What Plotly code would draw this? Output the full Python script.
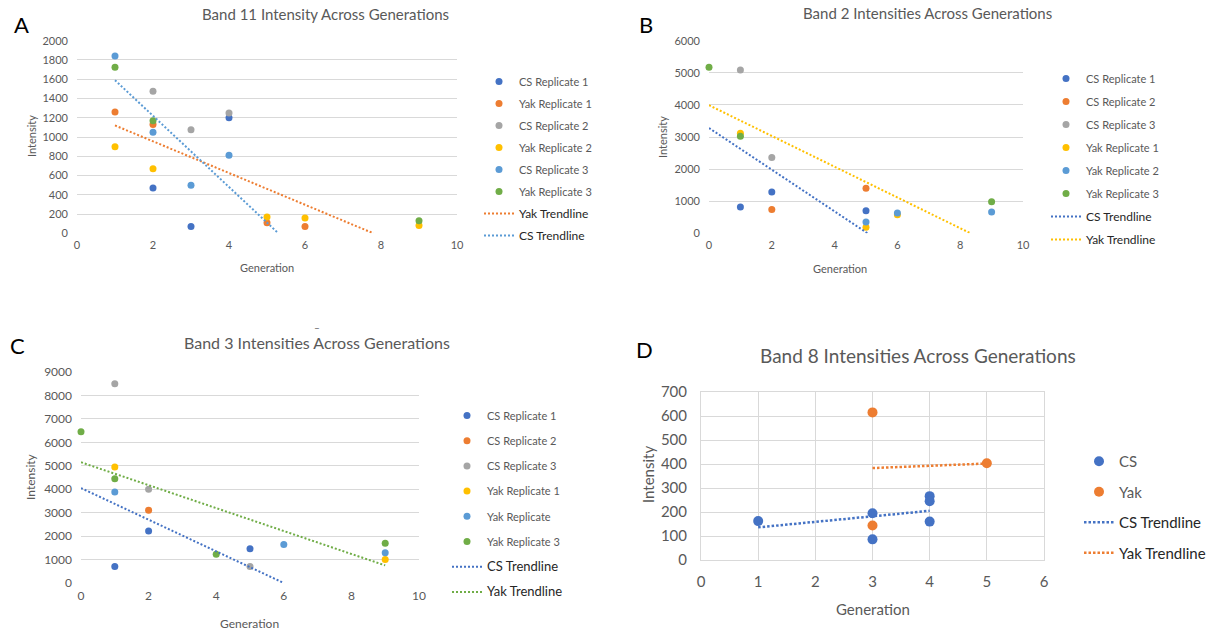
import plotly.graph_objects as go

W, H = 1216, 630
FONT = "Lato, 'Open Sans', sans-serif"
GRAY = "#595959"
GRID = "#D9D9D9"
C_BLUE, C_ORANGE, C_GRAY = "#4472C4", "#ED7D31", "#A5A5A5"
C_YELLOW, C_LBLUE, C_GREEN = "#FFC000", "#5B9BD5", "#70AD47"

# ---------------- Panel A: Band 11 ----------------
a_cs1_x, a_cs1_y = [2, 3, 4], [470, 70, 1200]
a_yak1_x, a_yak1_y = [1, 2, 5, 6], [1260, 1130, 110, 70]
a_cs2_x, a_cs2_y = [2, 3, 4], [1475, 1075, 1250]
a_yak2_x, a_yak2_y = [1, 2, 5, 6, 9], [900, 670, 170, 160, 80]
a_cs3_x, a_cs3_y = [1, 2, 3, 4], [1840, 1050, 500, 810]
a_yak3_x, a_yak3_y = [1, 2, 9], [1725, 1170, 130]
a_yak_trend_x, a_yak_trend_y = [1, 7.8], [1120, 0]
a_cs_trend_x, a_cs_trend_y = [1, 5.3], [1590, 0]

# ---------------- Panel B: Band 2 ----------------
b_cs1_x, b_cs1_y = [1, 2, 5], [820, 1290, 700]
b_cs2_x, b_cs2_y = [2, 5], [740, 1400]
b_cs3_x, b_cs3_y = [1, 2], [5090, 2360]
b_yak1_x, b_yak1_y = [1, 5, 6], [3120, 190, 580]
b_yak2_x, b_yak2_y = [5, 6, 9], [350, 630, 660]
b_yak3_x, b_yak3_y = [0, 1, 9], [5170, 3020, 980]
b_cs_trend_x, b_cs_trend_y = [0, 5.05], [3280, 0]
b_yak_trend_x, b_yak_trend_y = [0, 8.33], [3990, 0]

# ---------------- Panel C: Band 3 ----------------
c_cs1_x, c_cs1_y = [1, 2, 5], [700, 2220, 1460]
c_cs2_x, c_cs2_y = [2], [3100]
c_cs3_x, c_cs3_y = [1, 2, 5], [8500, 4000, 700]
c_yak1_x, c_yak1_y = [1, 9], [4950, 1000]
c_yak2_x, c_yak2_y = [1, 6, 9], [3880, 1640, 1290]
c_yak3_x, c_yak3_y = [0, 1, 4, 9], [6450, 4450, 1230, 1700]
c_cs_trend_x, c_cs_trend_y = [0, 6], [4050, 0]
c_yak_trend_x, c_yak_trend_y = [0, 9], [5150, 750]

# ---------------- Panel D: Band 8 ----------------
d_cs_x, d_cs_y = [1, 3, 3, 4, 4, 4], [162, 195, 86, 266, 245, 160]
d_yak_x, d_yak_y = [3, 3, 5], [615, 144, 403]
d_cs_trend_x, d_cs_trend_y = [1, 4], [136, 205]
d_yak_trend_x, d_yak_trend_y = [3, 5], [383, 402]

fig = go.Figure()


def pts(x, y, name, color, ax, legend, size=7, rank=None):
    fig.add_trace(go.Scatter(
        x=x, y=y, mode="markers", name=name, xaxis="x" + ax, yaxis="y" + ax,
        marker=dict(color=color, size=size, line=dict(width=0)),
        cliponaxis=False, legend=legend, legendgroup=legend + name,
        legendrank=rank if rank else 1000, hoverinfo="x+y"))


def trend(x, y, name, color, ax, legend, fsize, rank, width=2, dash="2px,2px"):
    label = "<span style='color:#262626;font-size:%dpx'>%s</span>" % (fsize, name)
    fig.add_trace(go.Scatter(
        x=x, y=y, mode="lines", name=label, xaxis="x" + ax, yaxis="y" + ax,
        line=dict(color=color, width=width, dash=dash),
        legend=legend, legendgroup=legend + name, legendrank=rank, hoverinfo="skip"))


# A
pts(a_cs1_x, a_cs1_y, "CS Replicate 1", C_BLUE, "", "legend", rank=1)
pts(a_yak1_x, a_yak1_y, "Yak Replicate 1", C_ORANGE, "", "legend", rank=2)
pts(a_cs2_x, a_cs2_y, "CS Replicate 2", C_GRAY, "", "legend", rank=3)
pts(a_yak2_x, a_yak2_y, "Yak Replicate 2", C_YELLOW, "", "legend", rank=4)
pts(a_cs3_x, a_cs3_y, "CS Replicate 3", C_LBLUE, "", "legend", rank=5)
pts(a_yak3_x, a_yak3_y, "Yak Replicate 3", C_GREEN, "", "legend", rank=6)
trend(a_yak_trend_x, a_yak_trend_y, "Yak Trendline", C_ORANGE, "", "legend", 12, 7)
trend(a_cs_trend_x, a_cs_trend_y, "CS Trendline", C_LBLUE, "", "legend", 12, 8)

# B
pts(b_cs1_x, b_cs1_y, "CS Replicate 1", C_BLUE, "2", "legend2", rank=1)
pts(b_cs2_x, b_cs2_y, "CS Replicate 2", C_ORANGE, "2", "legend2", rank=2)
pts(b_cs3_x, b_cs3_y, "CS Replicate 3", C_GRAY, "2", "legend2", rank=3)
pts(b_yak1_x, b_yak1_y, "Yak Replicate 1", C_YELLOW, "2", "legend2", rank=4)
pts(b_yak2_x, b_yak2_y, "Yak Replicate 2", C_LBLUE, "2", "legend2", rank=5)
pts(b_yak3_x, b_yak3_y, "Yak Replicate 3", C_GREEN, "2", "legend2", rank=6)
trend(b_cs_trend_x, b_cs_trend_y, "CS Trendline", C_BLUE, "2", "legend2", 12, 7)
trend(b_yak_trend_x, b_yak_trend_y, "Yak Trendline", C_YELLOW, "2", "legend2", 12, 8)

# C
pts(c_cs1_x, c_cs1_y, "CS Replicate 1", C_BLUE, "3", "legend3", rank=1)
pts(c_cs2_x, c_cs2_y, "CS Replicate 2", C_ORANGE, "3", "legend3", rank=2)
pts(c_cs3_x, c_cs3_y, "CS Replicate 3", C_GRAY, "3", "legend3", rank=3)
pts(c_yak1_x, c_yak1_y, "Yak Replicate 1", C_YELLOW, "3", "legend3", rank=4)
pts(c_yak2_x, c_yak2_y, "Yak Replicate", C_LBLUE, "3", "legend3", rank=5)
pts(c_yak3_x, c_yak3_y, "Yak Replicate 3", C_GREEN, "3", "legend3", rank=6)
trend(c_cs_trend_x, c_cs_trend_y, "CS Trendline", C_BLUE, "3", "legend3", 13, 7)
trend(c_yak_trend_x, c_yak_trend_y, "Yak Trendline", C_GREEN, "3", "legend3", 13, 8)

# D
pts(d_cs_x, d_cs_y, "CS", C_BLUE, "4", "legend4", size=10, rank=1)
pts(d_yak_x, d_yak_y, "Yak", C_ORANGE, "4", "legend4", size=10, rank=2)
trend(d_cs_trend_x, d_cs_trend_y, "CS Trendline", C_BLUE, "4", "legend4", 15, 3,
      width=2.5, dash="2.5px,2px")
trend(d_yak_trend_x, d_yak_trend_y, "Yak Trendline", C_ORANGE, "4", "legend4", 15, 4,
      width=2.5, dash="2.5px,2px")


def px(x):
    return x / W


def py(y):
    return 1 - y / H


def xaxis(d0, d1, anchor, rng, dtick, fsize, box=False, standoff=4):
    return dict(domain=[px(d0), px(d1)], anchor=anchor, range=rng, dtick=dtick, tick0=0,
                showgrid=box, gridcolor=GRID, gridwidth=1, zeroline=False,
                showline=box, mirror=box, linecolor=GRID, linewidth=1,
                ticks="", ticklabelstandoff=standoff,
                tickfont=dict(family=FONT, size=fsize, color=GRAY), fixedrange=True)


def yaxis(d0, d1, anchor, rng, dtick, fsize, box=False, standoff=8):
    return dict(domain=[py(d1), py(d0)], anchor=anchor, range=rng, dtick=dtick, tick0=0,
                showgrid=True, gridcolor=GRID, gridwidth=1, zeroline=False,
                showline=box, mirror=box, linecolor=GRID, linewidth=1,
                ticks="", ticklabelstandoff=standoff,
                tickfont=dict(family=FONT, size=fsize, color=GRAY), fixedrange=True)


layout = dict(
    width=W, height=H, margin=dict(l=0, r=0, t=0, b=0, autoexpand=False),
    paper_bgcolor="white", plot_bgcolor="white",
    font=dict(family=FONT, color=GRAY),
    xaxis=xaxis(77, 457, "y", [0, 10], 2, 11),
    yaxis=yaxis(40.7, 233.3, "x", [0, 2000], 200, 11),
    xaxis2=xaxis(709, 1023, "y2", [0, 10], 2, 11),
    yaxis2=yaxis(40.7, 233.3, "x2", [0, 6000], 1000, 11),
    xaxis3=xaxis(81, 419, "y3", [0, 10], 2, 12),
    yaxis3=yaxis(372, 583, "x3", [0, 9000], 1000, 12),
    xaxis4=xaxis(701, 1044, "y4", [0, 6], 1, 15, box=True, standoff=8),
    yaxis4=yaxis(392, 560, "x4", [0, 700], 100, 15, box=True, standoff=10),
)


def leg(mx, top, fsize, gap):
    return dict(x=px(mx - 20), y=py(top), xanchor="left", yanchor="top",
                bgcolor="rgba(0,0,0,0)", borderwidth=0, traceorder="grouped",
                tracegroupgap=gap, font=dict(family=FONT, size=fsize, color=GRAY),
                itemclick=False, itemdoubleclick=False)


layout["legend"] = leg(499, 67, 11, 3)
layout["legend2"] = leg(1066, 64, 11, 4)
layout["legend3"] = leg(467, 401, 11, 6.2)
layout["legend4"] = leg(1099, 445, 15, 8)

ann = []


def text(s, x, y, size, color=GRAY, angle=0):
    ann.append(dict(text=s, x=px(x), y=py(y), xref="paper", yref="paper",
                    xanchor="center", yanchor="middle", showarrow=False, textangle=angle,
                    font=dict(family=FONT, size=size, color=color)))


# titles
text("Band 11 Intensity Across Generations", 325, 14, 15)
text("Band 2 Intensities Across Generations", 927, 13, 15)
text("Band 3 Intensities Across Generations", 317, 342, 16)
text("Band 8 Intensities Across Generations", 918, 355, 19)
# panel letters
text("A", 21, 25, 22, "black")
text("B", 646, 25, 22, "black")
text("C", 17, 345, 22, "black")
text("D", 644, 349, 22, "black")
# axis titles
text("Intensity", 31, 136, 11, angle=-90)
text("Generation", 267, 267, 11)
text("Intensity", 662, 137, 11, angle=-90)
text("Generation", 840, 268, 11)
text("Intensity", 30, 477, 12, angle=-90)
text("Generation", 250, 623, 12)
text("Intensity", 648, 475, 15, angle=-90)
text("Generation", 873, 609, 15)
# small cropped fragment above panel C title
text("–", 317, 327, 10)

layout["annotations"] = ann
fig.update_layout(**layout)
fig.write_html("out.html")
